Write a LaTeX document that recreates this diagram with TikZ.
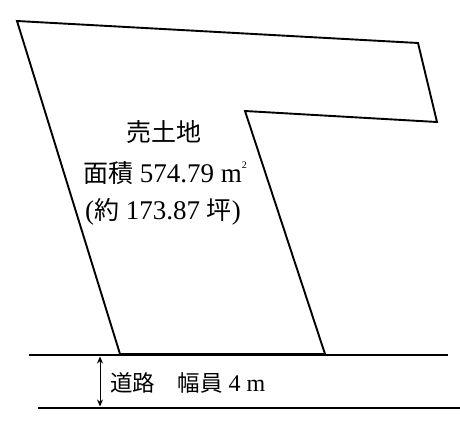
\documentclass[tikz,border=0pt]{standalone}
\usepackage{fontspec}
\setmainfont{Liberation Serif}
\newfontfamily\jp{Noto Sans CJK JP}
\usetikzlibrary{arrows.meta}

\newcommand{\jpt}[2][25]{{\fontsize{#1}{#1}\selectfont\jp #2}}

\begin{document}
\begin{tikzpicture}[x=1pt,y=-1pt]
    \useasboundingbox (0,0) rectangle (460,423);
    % lot outline
    \draw[line width=1.9pt, line join=miter] (17,21) -- (418,43) -- (437,122) -- (245,111) -- (325,354) -- (120,354) -- cycle;
    % road edges
    \coordinate (roadTL) at (29,355);
    \coordinate (roadTR) at (448,355);
    \coordinate (roadBL) at (38,408);
    \coordinate (roadBR) at (460,408);
    \draw[line width=1.3pt] (roadTL) -- (roadTR);
    \draw[line width=1.3pt] (roadBL) -- (roadBR);
    % road width
    \coordinate (wTop) at (100,356.5);
    \coordinate (wBot) at (100,406.5);
    \draw[line width=1pt, {Stealth[length=7pt,width=6pt]}-{Stealth[length=7pt,width=6pt]}] (wTop) -- (wBot);
    \node[font=\fontsize{24}{26}\selectfont, anchor=west, inner sep=0pt] (road) at (110,383) {\jpt[22.5]{道路　幅員}\hspace{6pt}4 m};
    % labels
    \node[font=\fontsize{27}{29}\selectfont] (sale) at (164,132) {\jpt{売土地}};
    \node[font=\fontsize{27}{29}\selectfont] (area) at (165,173) {\jpt{面積} 574.79 m\raisebox{0.5em}{\fontsize{10}{10}\selectfont 2}};
    \node[font=\fontsize{27}{29}\selectfont] (tsubo) at (163,212) {(\jpt{約} 173.87 \jpt{坪})};
\end{tikzpicture}
\end{document}
